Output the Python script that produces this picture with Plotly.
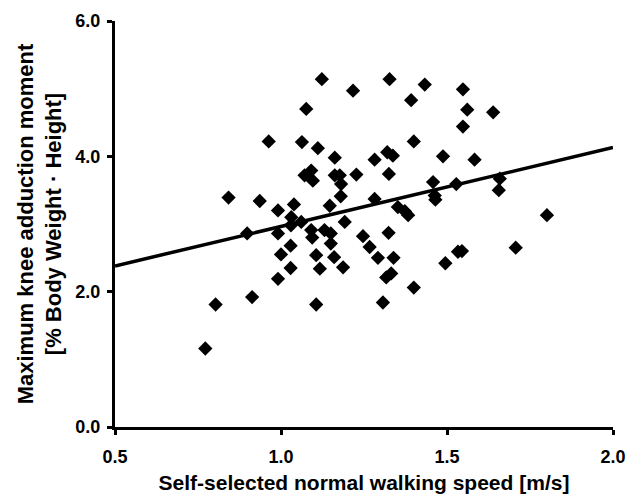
import plotly.graph_objects as go

speed = [0.772, 0.803, 0.842, 0.898, 0.913, 0.936, 0.963, 0.991, 0.991, 0.991,
         1.000, 1.029, 1.029, 1.031, 1.039, 1.030, 1.061, 1.063, 1.071, 1.076,
         1.091, 1.096, 1.091, 1.094, 1.106, 1.106, 1.111, 1.117, 1.123, 1.131,
         1.147, 1.150, 1.150, 1.162, 1.162, 1.160, 1.177, 1.181, 1.180, 1.192,
         1.187, 1.217, 1.227, 1.247, 1.267, 1.282, 1.282, 1.292, 1.307, 1.317,
         1.320, 1.324, 1.325, 1.327, 1.332, 1.337, 1.339, 1.352, 1.373, 1.383,
         1.392, 1.400, 1.400, 1.433, 1.458, 1.463, 1.465, 1.488, 1.495, 1.528,
         1.533, 1.545, 1.548, 1.548, 1.561, 1.583, 1.639, 1.659, 1.656, 1.707,
         1.801]
moment = [1.16, 1.81, 3.39, 2.86, 1.92, 3.34, 4.22, 3.20, 2.86, 2.19,
          2.55, 2.68, 2.35, 3.10, 3.29, 2.98, 3.03, 4.21, 3.72, 4.70,
          3.79, 3.64, 2.91, 2.80, 2.54, 1.81, 4.12, 2.34, 5.14, 2.91,
          3.27, 2.86, 2.71, 3.98, 3.72, 2.51, 3.72, 3.59, 3.41, 3.03,
          2.36, 4.97, 3.73, 2.82, 2.66, 3.95, 3.37, 2.50, 1.84, 2.21,
          4.06, 2.87, 3.74, 5.14, 2.27, 4.01, 2.50, 3.25, 3.19, 3.13,
          4.83, 4.22, 2.06, 5.06, 3.62, 3.42, 3.36, 4.00, 2.42, 3.59,
          2.59, 2.60, 4.99, 4.44, 4.69, 3.95, 4.65, 3.67, 3.50, 2.65,
          3.13]

fit_x = [0.5, 2.0]
fit_y = [2.38, 4.13]

x_ticks = [0.5, 1.0, 1.5, 2.0]
y_ticks = [0.0, 2.0, 4.0, 6.0]

font_family = "Liberation Sans"

fig = go.Figure()
fig.add_trace(go.Scatter(x=fit_x, y=fit_y, mode="lines",
                         line=dict(color="black", width=3.5),
                         showlegend=False, cliponaxis=False))
fig.add_trace(go.Scatter(x=speed, y=moment, mode="markers",
                         marker=dict(symbol="diamond", size=11, color="black",
                                     line=dict(width=0)),
                         showlegend=False, cliponaxis=False))

fig.update_layout(
    width=628, height=496,
    margin=dict(l=115, r=15, t=21, b=69),
    paper_bgcolor="white", plot_bgcolor="white",
    font=dict(family=font_family, color="black", weight="bold"),
)
fig.update_xaxes(
    range=[0.5, 2.0], tickvals=x_ticks, ticktext=[f"{v:.1f}" for v in x_ticks],
    showgrid=False, zeroline=False, showline=True, linecolor="black", linewidth=3,
    ticks="outside", ticklen=5, tickwidth=3, tickcolor="black",
    tickfont=dict(size=18, family=font_family, weight="bold"),
    ticklabelstandoff=6,
    automargin=False,
    title=dict(text="Self-selected normal walking speed [m/s]",
               font=dict(size=21, family=font_family, weight="bold"), standoff=10),
)
fig.update_yaxes(
    range=[0, 6], tickvals=y_ticks, ticktext=[f"{v:.1f}" for v in y_ticks],
    showgrid=False, zeroline=False, showline=True, linecolor="black", linewidth=3,
    ticks="outside", ticklen=5, tickwidth=3, tickcolor="black",
    tickfont=dict(size=18, family=font_family, weight="bold"),
    ticklabelstandoff=3,
    automargin=False,
    title=dict(text="Maximum knee adduction moment<br>[% Body Weight · Height]",
               font=dict(size=22, family=font_family, weight="bold"), standoff=8),
)

fig.write_html("out.html")
